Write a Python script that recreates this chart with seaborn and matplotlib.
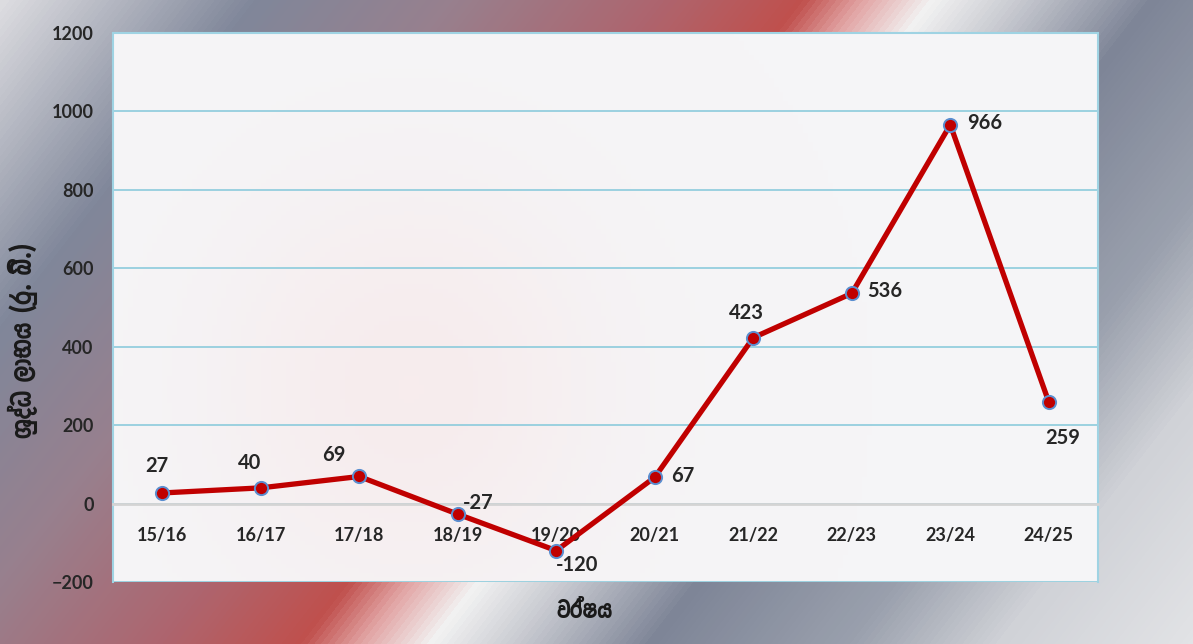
import numpy as np
import matplotlib
matplotlib.use("Agg")
import matplotlib.pyplot as plt
from matplotlib.colors import LinearSegmentedColormap
import seaborn as sns

years = ["15/16", "16/17", "17/18", "18/19", "19/20", "20/21", "21/22", "22/23", "23/24", "24/25"]
profit = [27, 40, 69, -27, -120, 67, 423, 536, 966, 259]

y_label = "ශුද්ධ ලාභය (රු. බි.)"
x_label = "වර්ෂය"

# label offsets from each point, in pixels (x right, y up)
label_offsets = [(-5, 27), (-11, 25), (-25, 21), (20, 11), (21, -14),
                 (28, 1), (-7, 25), (33, 2), (34, 2), (14, -36)]

sns.set_theme(style="white")
plt.rcParams["font.family"] = ["Lato", "Noto Sans", "DejaVu Sans"]
SINHALA = ["Yaldevi Colombo", "Noto Sans Sinhala", "DejaVu Sans"]

W, H = 1193, 644
fig = plt.figure(figsize=(W / 100, H / 100), dpi=100)

# diagonal banded background
bg = fig.add_axes([0, 0, 1, 1], zorder=0)
xx, yy = np.meshgrid(np.arange(W), np.arange(H))
u = xx - 0.78 * (H - yy)
stops = [(-500, "#dcdce0"), (-250, "#80879a"), (-50, "#98808e"), (150, "#ad6670"),
         (300, "#c0504d"), (360, "#e2a4a4"), (430, "#f2f2f2"), (520, "#c6c8cf"),
         (650, "#7e8597"), (850, "#9aa0ad"), (1000, "#d0d2d7"), (1193, "#e2e3e6")]
lo, hi = stops[0][0], stops[-1][0]
cmap = LinearSegmentedColormap.from_list("bg", [((s - lo) / (hi - lo), c) for s, c in stops])
bg.imshow((u - lo) / (hi - lo), cmap=cmap, vmin=0, vmax=1, aspect="auto", origin="upper")
bg.axis("off")

ax = fig.add_axes([0.0947, 0.0963, 0.8257, 0.8525], zorder=1)

# faint pink glow in the plot area
gx, gy = np.meshgrid(np.linspace(0, 1, 200), np.linspace(0, 1, 120))
glow = np.exp(-((gx - 0.3) ** 2) / 0.04 - ((gy - 0.35) ** 2) / 0.15)
panel = LinearSegmentedColormap.from_list("panel", ["#f5f5f7", "#f7eced"])
ax.imshow(glow, cmap=panel, vmin=0, vmax=1, extent=[0, 1, 0, 1], transform=ax.transAxes,
          aspect="auto", zorder=0, origin="lower")

sns.lineplot(x=years, y=profit, sort=False, ax=ax, color="#c00000", linewidth=3.8,
             marker="o", markersize=9.5, markerfacecolor="#c00000",
             markeredgecolor="#5b8fd0", markeredgewidth=1.4, zorder=5)

for i, (v, (dx, dy)) in enumerate(zip(profit, label_offsets)):
    ax.annotate(str(v), (i, v), xytext=(dx * 0.72, dy * 0.72), textcoords="offset points",
                ha="center", va="center", fontsize=14.5, fontweight="bold",
                color="#262626", zorder=6)

ax.set_xlim(-0.5, len(years) - 0.5)
ax.set_ylim(-200, 1200)
ax.set_yticks(range(-200, 1201, 200))
ax.yaxis.grid(True, color="#8ccbdc", linewidth=1.2, zorder=1)
ax.set_axisbelow(True)

for side in ["left", "right", "top"]:
    ax.spines[side].set_color("#9fd3e3")
    ax.spines[side].set_linewidth(1.5)
ax.spines["bottom"].set_position(("data", 0))
ax.spines["bottom"].set_color("#d4d4d4")
ax.spines["bottom"].set_linewidth(2)
ax.spines["bottom"].set_zorder(3)

ax.set_xticks(range(len(years)))
ax.set_xticklabels(years)
ax.set_xticks(np.arange(0.5, len(years) - 1, 1), minor=True)
ax.tick_params(axis="x", which="major", length=0, pad=17, labelsize=13, labelcolor="#262626")
ax.tick_params(axis="x", which="minor", direction="in", length=7, width=1.5, color="#d4d4d4")
ax.tick_params(axis="y", length=0, pad=14, labelsize=13, labelcolor="#262626")
for lbl in ax.get_xticklabels() + ax.get_yticklabels():
    lbl.set_fontweight("bold")

ax.set_xlabel("")
ax.set_ylabel("")
fig.text(0.019, 0.472, y_label, rotation=90, ha="center", va="center", family=SINHALA,
         fontsize=21, fontweight="bold", color="#1a1a1a")
fig.text(0.49, 0.05, x_label, ha="center", va="center", family=SINHALA,
         fontsize=19, fontweight="bold", color="#1a1a1a")

fig.savefig("out.png", dpi=100)
